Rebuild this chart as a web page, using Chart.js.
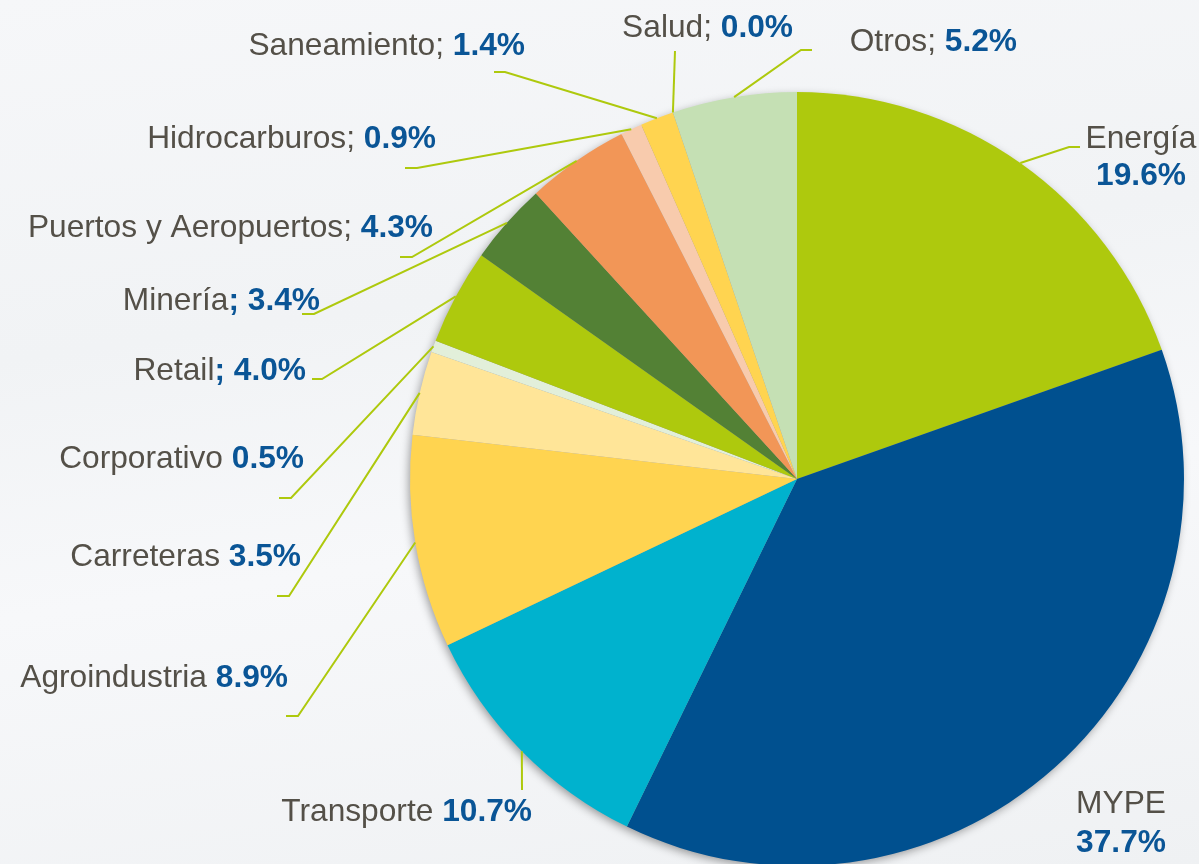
<!DOCTYPE html>
<html>
<head>
<meta charset="utf-8">
<script src="https://cdn.jsdelivr.net/npm/chart.js@4.4.1/dist/chart.umd.min.js"></script>
<style>
  html, body { margin: 0; padding: 0; overflow: hidden; }
  body {
    width: 1199px; height: 864px;
    background: linear-gradient(172deg, #f6f7f9 0%, #f1f3f5 35%, #f7f8fa 60%, #eff1f3 100%);
  }
  #wrap { position: relative; width: 1199px; height: 870px; }
</style>
</head>
<body>
<div id="wrap"><canvas id="chart"></canvas></div>
<script>
// cartera por sector (%), clockwise from 12 o'clock
const sectors = ['Energía', 'MYPE', 'Transporte', 'Agroindustria', 'Carreteras', 'Corporativo',
  'Retail', 'Minería', 'Puertos y Aeropuertos', 'Hidrocarburos', 'Saneamiento', 'Salud', 'Otros'];
const shares = [19.6, 37.7, 10.7, 8.9, 3.5, 0.5, 4.0, 3.4, 4.3, 0.9, 1.4, 0.0, 5.2];
const sliceColors = ['#aec90d', '#00508f', '#00b2ce', '#ffd450', '#ffe598', '#e2efda',
  '#aec90d', '#538135', '#f29657', '#f8cbad', '#ffd450', '#ffd450', '#c5e0b4'];
// text between name and value; '\n' = value on its own line
const separators = ['\n', '\n', ' ', ' ', ' ', ' ', '; ', '; ', '; ', '; ', '; ', '; ', '; '];
const boldSeparator = [false, false, false, false, false, false, true, true, false, false, false, false, false];

const GRAY = '#545048';
const BLUE = '#0a5596';
const LINE = '#aec90d';
const FONT = '"Liberation Sans", Arial, sans-serif';
const FS = 31.7;

// where each callout sits (label layout only)
const callouts = [
  { elbow: [1069, 147], end: [1080, 147], x: 1141, y: 148, y2: 185, align: 'center' },
  { x: 1121, y: 813, y2: 852, align: 'center' },
  { elbow: [522, 790], x: 532, y: 821, align: 'right' },
  { elbow: [298, 716], end: [286, 716], x: 288, y: 687, align: 'right' },
  { elbow: [289, 596], end: [277, 596], x: 301, y: 566, align: 'right' },
  { elbow: [291, 498], end: [279, 498], x: 304, y: 468, align: 'right' },
  { elbow: [322, 379], end: [312, 379], x: 306, y: 380, align: 'right' },
  { elbow: [314, 314], end: [302, 314], x: 320, y: 310, align: 'right' },
  { elbow: [412, 257], end: [400, 257], x: 433, y: 237, align: 'right' },
  { elbow: [417, 168], end: [405, 168], x: 436, y: 148, align: 'right' },
  { elbow: [505, 72], end: [494, 72], x: 525, y: 55, align: 'right' },
  { elbow: [675, 51], x: 793, y: 37, align: 'right' },
  { elbow: [801, 50], end: [812, 50], x: 1017, y: 51, align: 'right' }
];

const pieShadow = {
  id: 'pieShadow',
  beforeDatasetsDraw(chart) {
    const arc = chart.getDatasetMeta(0).data[0];
    if (!arc) return;
    const { x, y, outerRadius } = arc.getProps(['x', 'y', 'outerRadius'], true);
    const ctx = chart.ctx;
    ctx.save();
    ctx.shadowColor = 'rgba(0,0,0,0.4)';
    ctx.shadowBlur = 10;
    ctx.shadowOffsetX = -2;
    ctx.shadowOffsetY = 3;
    ctx.fillStyle = '#999';
    ctx.beginPath();
    ctx.arc(x, y, outerRadius - 1, 0, Math.PI * 2);
    ctx.fill();
    ctx.restore();
  }
};

const calloutsPlugin = {
  id: 'callouts',
  afterDatasetsDraw(chart) {
    const ctx = chart.ctx;
    const arcs = chart.getDatasetMeta(0).data;
    ctx.save();
    arcs.forEach((arc, i) => {
      const c = callouts[i];
      const p = arc.getProps(['x', 'y', 'startAngle', 'endAngle', 'outerRadius'], true);
      const mid = (p.startAngle + p.endAngle) / 2;
      const rx = p.x + Math.cos(mid) * p.outerRadius;
      const ry = p.y + Math.sin(mid) * p.outerRadius;

      if (c.elbow) {
        ctx.strokeStyle = LINE;
        ctx.lineWidth = 2;
        ctx.beginPath();
        ctx.moveTo(rx, ry);
        ctx.lineTo(c.elbow[0], c.elbow[1]);
        if (c.end) ctx.lineTo(c.end[0], c.end[1]);
        ctx.stroke();
      }

      const name = sectors[i];
      const value = shares[i].toFixed(1) + '%';
      const sep = separators[i];
      const reg = FS + 'px ' + FONT;
      const bold = 'bold ' + FS + 'px ' + FONT;
      ctx.textBaseline = 'alphabetic';

      if (sep === '\n') {
        ctx.textAlign = 'center';
        ctx.font = reg; ctx.fillStyle = GRAY;
        ctx.fillText(name, c.x, c.y);
        ctx.font = bold; ctx.fillStyle = BLUE;
        ctx.fillText(value, c.x, c.y2);
        return;
      }

      const first = boldSeparator[i] ? name : name + sep;
      const second = boldSeparator[i] ? sep + value : value;
      ctx.font = reg;
      const w1 = ctx.measureText(first).width;
      ctx.font = bold;
      const w2 = ctx.measureText(second).width;
      let x0 = c.x - w1 - w2;
      if (c.align === 'center') x0 = c.x - (w1 + w2) / 2;
      ctx.textAlign = 'left';
      ctx.font = reg; ctx.fillStyle = GRAY;
      ctx.fillText(first, x0, c.y);
      ctx.font = bold; ctx.fillStyle = BLUE;
      ctx.fillText(second, x0 + w1, c.y);
    });
    ctx.restore();
  }
};

new Chart(document.getElementById('chart'), {
  type: 'pie',
  data: {
    labels: sectors,
    datasets: [{
      data: shares,
      backgroundColor: sliceColors,
      borderWidth: 0
    }]
  },
  options: {
    responsive: true,
    maintainAspectRatio: false,
    animation: false,
    layout: { padding: { top: 92, bottom: 4, left: 410, right: 15 } },
    plugins: {
      legend: { display: false },
      tooltip: { enabled: false }
    }
  },
  plugins: [pieShadow, calloutsPlugin]
});
</script>
</body>
</html>
